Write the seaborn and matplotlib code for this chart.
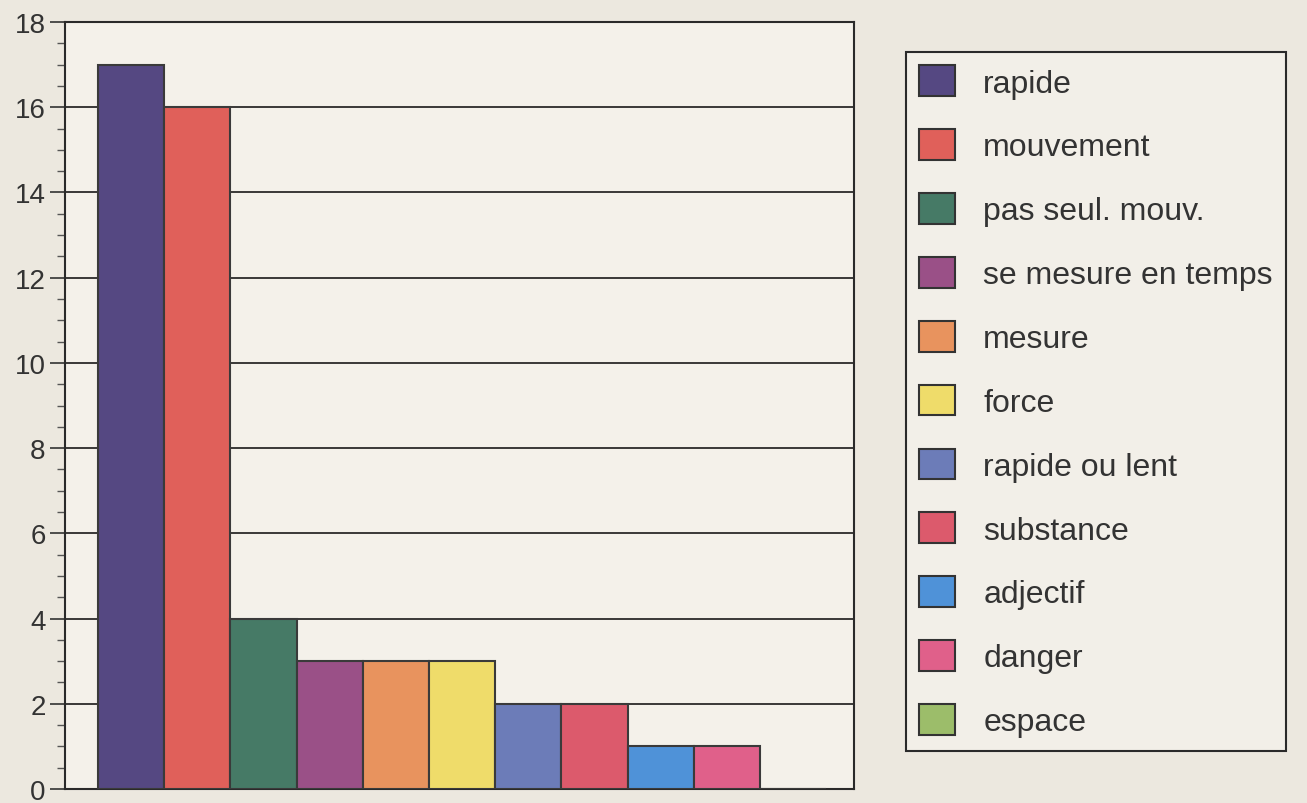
import matplotlib
matplotlib.use("Agg")
import matplotlib.pyplot as plt
import seaborn as sns
import pandas as pd
from matplotlib.patches import Patch
from matplotlib.ticker import MultipleLocator

categories = ["rapide", "mouvement", "pas seul. mouv.", "se mesure en temps", "mesure",
              "force", "rapide ou lent", "substance", "adjectif", "danger", "espace"]
values = [17, 16, 4, 3, 3, 3, 2, 2, 1, 1, 0]
colors = ["#554882", "#e0605a", "#467a66", "#9a5087", "#e8935e", "#efdc6a",
          "#6c7cb8", "#dc5a6c", "#4f92d8", "#e0608a", "#9cbd6a"]
yticks = [0, 2, 4, 6, 8, 10, 12, 14, 16, 18]

sns.set_theme(style="white")
plt.rcParams['font.family'] = ['Liberation Sans', 'DejaVu Sans']

df = pd.DataFrame({"cat": categories, "val": values})

fig = plt.figure(figsize=(13.07, 8.04), dpi=100, facecolor="#ece8df")
ax = fig.add_axes([65/1307, 14/804, (854-65)/1307, (790-23)/804])
ax.set_facecolor("#f4f1ea")

sns.barplot(data=df, x="cat", y="val", hue="cat", palette=colors, order=categories,
            hue_order=categories, width=1.0, edgecolor="#3a3a3a", linewidth=1.5,
            saturation=1, legend=False, ax=ax, zorder=3)

ax.set_xlim(-1.0, 10.92)
ax.set_ylim(0, 18)
ax.set_yticks(yticks)
ax.yaxis.set_minor_locator(MultipleLocator(0.5))
ax.set_xticks([])
ax.set_xlabel("")
ax.set_ylabel("")
ax.grid(axis="y", which="major", color="#1a1a1a", linewidth=1.2, zorder=0)
ax.set_axisbelow(True)
ax.tick_params(axis="y", which="major", length=11, width=1.2, color="#333333",
               direction="out", left=True, labelsize=20, labelcolor="#333333", pad=3)
ax.tick_params(axis="y", which="minor", length=5.5, width=1.0, color="#555555",
               direction="out", left=True)
for s in ax.spines.values():
    s.set_visible(True)
    s.set_color("#2a2a2a")
    s.set_linewidth(1.5)

handles = [Patch(facecolor=c, edgecolor="#333333", linewidth=1.5, label=l)
           for c, l in zip(colors, categories)]
leg = fig.legend(handles=handles, loc="upper left", bbox_to_anchor=(906/1307, 1-53/804),
                 fontsize=23, frameon=True, fancybox=False, edgecolor="#2a2a2a",
                 facecolor="#f2efe8", framealpha=1, handlelength=1.1, handleheight=1.1,
                 handletextpad=0.9, labelspacing=0.96, borderpad=0.42, borderaxespad=0)
leg.get_frame().set_linewidth(1.5)
for t in leg.get_texts():
    t.set_color("#333333")

fig.savefig("out.png", dpi=100, facecolor=fig.get_facecolor())
